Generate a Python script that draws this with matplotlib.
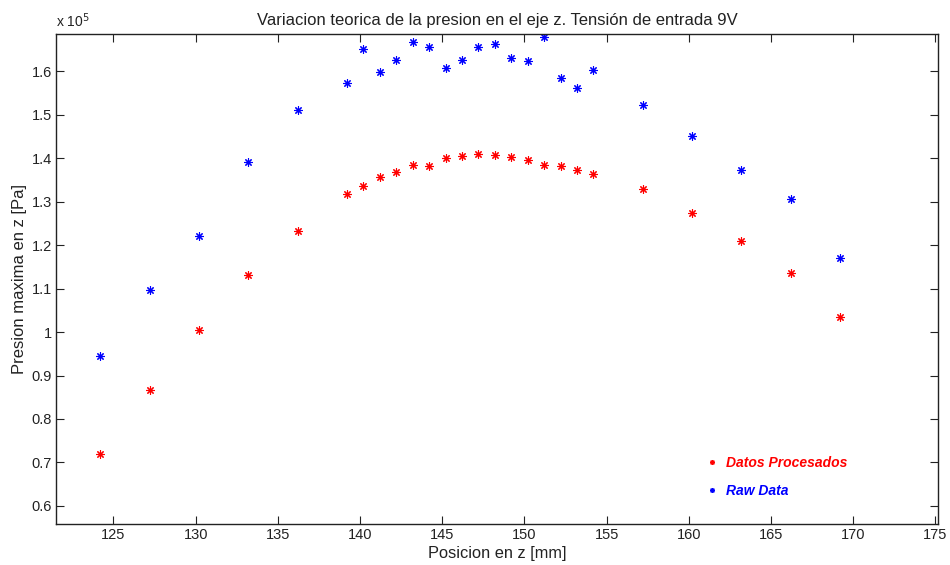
import matplotlib
matplotlib.use("Agg")
import matplotlib.pyplot as plt
from matplotlib.ticker import FormatStrFormatter
import numpy as np

plt.rcParams['font.family'] = ['Liberation Sans', 'DejaVu Sans']

# Axial positions [mm]
posicion_z = [124.2, 127.2, 130.2, 133.2, 136.2, 139.2, 140.2, 141.2, 142.2,
              143.2, 144.2, 145.2, 146.2, 147.2, 148.2, 149.2, 150.2, 151.2,
              152.2, 153.2, 154.2, 157.2, 160.2, 163.2, 166.2, 169.2]

# Maximum pressure [Pa], processed data
datos_procesados = [0.720e5, 0.867e5, 1.004e5, 1.131e5, 1.233e5, 1.317e5,
                    1.336e5, 1.356e5, 1.369e5, 1.384e5, 1.381e5, 1.400e5,
                    1.405e5, 1.409e5, 1.407e5, 1.403e5, 1.395e5, 1.384e5,
                    1.381e5, 1.374e5, 1.364e5, 1.329e5, 1.273e5, 1.209e5,
                    1.137e5, 1.034e5]

# Maximum pressure [Pa], raw measurements
raw_data = [0.946e5, 1.097e5, 1.222e5, 1.392e5, 1.510e5, 1.572e5, 1.651e5,
            1.598e5, 1.626e5, 1.668e5, 1.657e5, 1.608e5, 1.626e5, 1.657e5,
            1.663e5, 1.630e5, 1.624e5, 1.678e5, 1.585e5, 1.562e5, 1.603e5,
            1.523e5, 1.450e5, 1.372e5, 1.307e5, 1.171e5]

x_ticks = [125, 130, 135, 140, 145, 150, 155, 160, 165, 170, 175]
y_ticks = [0.6, 0.7, 0.8, 0.9, 1.0, 1.1, 1.2, 1.3, 1.4, 1.5, 1.6]
escala = 1e5

titulo = "Variacion teorica de la presion en el eje z. Tensión de entrada 9V"

fig = plt.figure(figsize=(9.5, 5.65), dpi=100)
ax = fig.add_axes([0.0589, 0.0731, 0.9285, 0.8676])

marker = (8, 2, 0)
ax.plot(posicion_z, np.array(datos_procesados) / escala, linestyle='none',
        marker=marker, markersize=6, markeredgewidth=0.8, color='#ff0000',
        label='Datos Procesados')
ax.plot(posicion_z, np.array(raw_data) / escala, linestyle='none',
        marker=marker, markersize=6, markeredgewidth=0.8, color='#0000ff',
        label='Raw Data')

ax.set_xlim(121.5, 175.16)
ax.set_ylim(0.559, 1.687)
ax.set_xticks(x_ticks)
ax.set_yticks(y_ticks)
ax.yaxis.set_major_formatter(FormatStrFormatter('%g'))

ax.tick_params(direction='in', length=6, width=0.8, top=True, right=True,
               labelsize=10.5, pad=3, colors='#222222', labelcolor='#222222')
for s in ax.spines.values():
    s.set_linewidth(1.0)
    s.set_color('#222222')

ax.set_xlabel('Posicion en z [mm]', fontsize=11.8, color='#222222', labelpad=3)
ax.set_ylabel('Presion maxima en z [Pa]', fontsize=12, color='#222222', labelpad=3)
ax.set_title(titulo, fontsize=12, color='#222222', pad=6)

ax.text(0.0, 1.008, r'x 10$^{5}$', transform=ax.transAxes, fontsize=10,
        color='#222222', ha='left', va='bottom')

leg = ax.legend(loc='upper left', bbox_to_anchor=(0.7295, 0.153), frameon=False,
                handlelength=0.8, handletextpad=0.6, labelspacing=1.05,
                markerscale=0.6, borderpad=0,
                prop={'size': 10, 'weight': 'bold', 'style': 'italic'})
for txt, c in zip(leg.get_texts(), ['#ff0000', '#0000ff']):
    txt.set_color(c)

fig.savefig('out.png', dpi=100)
